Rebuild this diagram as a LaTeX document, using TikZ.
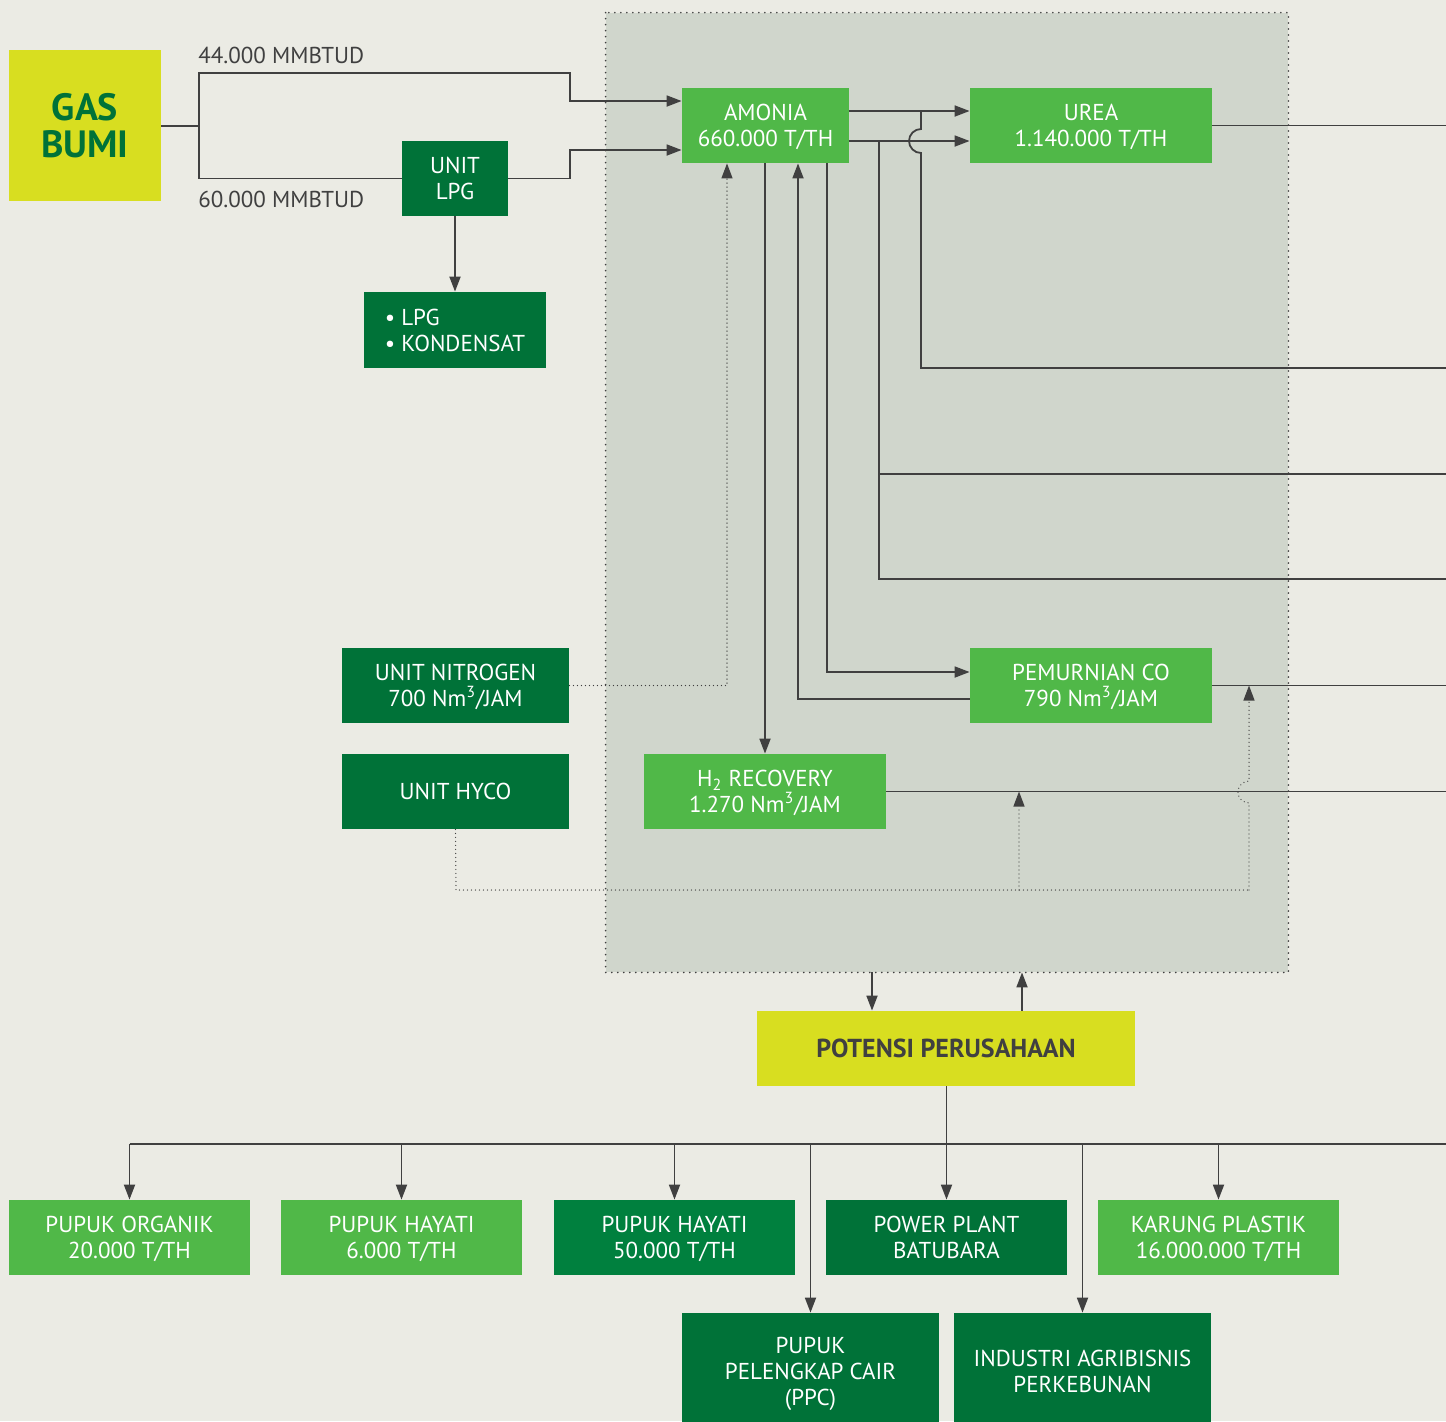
\documentclass[tikz,border=0pt]{standalone}
\usepackage{fontspec}
\setmainfont{PT Sans}
\usetikzlibrary{arrows.meta}
\definecolor{bg}{RGB}{235,235,228}
\definecolor{panelc}{RGB}{208,214,204}
\definecolor{lgreen}{RGB}{80,184,72}
\definecolor{dgreen}{RGB}{0,114,56}
\definecolor{mgreen}{RGB}{0,128,62}
\definecolor{ygreen}{RGB}{216,222,32}
\definecolor{ink}{RGB}{64,64,64}
\tikzset{
  box/.style={rectangle, inner sep=0pt, align=center, text=white, text depth=0pt, font=\fontsize{11.5}{13}\selectfont},
  lbox/.style={box, fill=lgreen},
  dbox/.style={box, fill=dgreen},
  conn/.style={draw=ink, line width=0.9pt},
  flow/.style={conn, -{Triangle[length=7.5pt,width=5.5pt]}},
  dotl/.style={draw=ink, line width=0.65pt, line cap=round, dash pattern=on 0pt off 2pt},
  dotflow/.style={dotl, -{Triangle[length=7.5pt,width=5.5pt]}},
  lbl/.style={text=ink, font=\fontsize{11.5}{13}\selectfont, inner sep=0pt, anchor=west}
}
\begin{document}
\begin{tikzpicture}[x=0.5pt,y=-0.5pt]
\fill[bg] (0,0) rectangle (1446,1421);
\useasboundingbox (0,0) rectangle (1446,1421);
\clip (0,0) rectangle (1446,1421);
% panel
\node[rectangle, fill=panelc, minimum width=341pt, minimum height=479.5pt, inner sep=0pt] (panel) at (947,492.5) {};
\draw[ink, line width=0.9pt, line cap=round, dash pattern=on 0pt off 3pt] (panel.north west) rectangle (panel.south east);

% nodes
\node[box, fill=ygreen, text=dgreen, minimum width=76pt, minimum height=75.5pt, font=\bfseries\fontsize{19}{18.5}\selectfont] (gas) at (85,125.5) {GAS\\BUMI};
\node[dbox, minimum width=53pt, minimum height=37.5pt] (lpgu) at (455,178.5) {UNIT\\LPG};
\node[dbox, minimum width=91pt, minimum height=38pt, align=left] (kond) at (455,330) {\textbullet\ LPG\\\textbullet\ KONDENSAT};
\node[lbox, minimum width=83.5pt, minimum height=37.5pt] (amonia) at (765.5,125.5) {AMONIA\\660.000 T/TH};
\node[lbox, minimum width=121pt, minimum height=37.5pt] (urea) at (1091,125.5) {UREA\\1.140.000 T/TH};
\node[lbox, minimum width=121pt, minimum height=37.5pt] (pem) at (1091,685.5) {PEMURNIAN CO\\790 Nm\textsuperscript{3}/JAM};
\node[lbox, minimum width=121pt, minimum height=37.5pt] (h2) at (765,791.5) {H\textsubscript{2} RECOVERY\\1.270 Nm\textsuperscript{3}/JAM};
\node[dbox, minimum width=113.5pt, minimum height=37.5pt] (nit) at (455.5,685.5) {UNIT NITROGEN\\700 Nm\textsuperscript{3}/JAM};
\node[dbox, minimum width=113.5pt, minimum height=37.5pt] (hyco) at (455.5,791.5) {UNIT HYCO};
\node[box, fill=ygreen, text=ink, minimum width=189pt, minimum height=37.5pt, font=\bfseries\fontsize{13}{15}\selectfont] (pot) at (946,1048.5) {POTENSI PERUSAHAAN};
\node[lbox, minimum width=120.5pt, minimum height=37.5pt] (org) at (129.5,1237.5) {PUPUK ORGANIK\\20.000 T/TH};
\node[lbox, minimum width=120.5pt, minimum height=37.5pt] (hay1) at (401.5,1237.5) {PUPUK HAYATI\\6.000 T/TH};
\node[box, fill=mgreen, minimum width=120.5pt, minimum height=37.5pt] (hay2) at (674.5,1237.5) {PUPUK HAYATI\\50.000 T/TH};
\node[dbox, minimum width=120.5pt, minimum height=37.5pt] (power) at (946.5,1237.5) {POWER PLANT\\BATUBARA};
\node[lbox, minimum width=120.5pt, minimum height=37.5pt] (karung) at (1218.5,1237.5) {KARUNG PLASTIK\\16.000.000 T/TH};
\node[dbox, minimum width=128.5pt, minimum height=58pt] (ppc) at (810.5,1371) {PUPUK\\PELENGKAP CAIR\\(PPC)};
\node[dbox, minimum width=128.5pt, minimum height=58pt] (agri) at (1082.5,1371) {INDUSTRI AGRIBISNIS\\PERKEBUNAN};

% labels
\node[lbl] (l44) at (198,55) {44.000 MMBTUD};
\node[lbl] (l60) at (198,199) {60.000 MMBTUD};

% helper coordinates
\coordinate (edge) at (1446,0);
\coordinate (j) at (199,126);
\coordinate (k1) at (570,73);
\coordinate (k2) at (570,150);
\coordinate (r101) at (0,101);
\coordinate (r111) at (0,111);
\coordinate (r141) at (0,141);
\coordinate (r368) at (0,368);
\coordinate (r474) at (0,474);
\coordinate (r579) at (0,579);
\coordinate (r672) at (0,672);
\coordinate (r699) at (0,699);
\coordinate (x727) at (727,0);
\coordinate (x798) at (798,0);
\coordinate (x827) at (827,0);
\coordinate (x879) at (879,0);
\coordinate (x921) at (921,0);
\coordinate (hb) at (456,890);
\coordinate (x1019) at (1019,0);
\coordinate (x1249) at (1249,0);
\coordinate (x872) at (872,0);
\coordinate (x1022) at (1022,0);
\coordinate (bus) at (0,1144);

% gas inputs
\draw[conn] (gas.east |- j) -- (j);
\draw[flow] (j) |- (k1) |- (amonia.west |- r101);
\draw[conn] (j) |- (lpgu.west);
\draw[flow] (lpgu.east) -| (k2) -- (amonia.west |- k2);
\draw[flow] (lpgu.south) -- (kond.north);

% amonia to urea
\draw[flow] (amonia.east |- r111) -- (urea.west |- r111);
\draw[flow] (amonia.east |- r141) -- (urea.west |- r141);
\draw[conn] (x921 |- r111) -- ++(0,18) arc[start angle=90, end angle=270, radius=6pt] -- (x921 |- r368) -- (edge |- r368);
\draw[conn] (x879 |- r141) -- (x879 |- r579) -- (edge |- r579);
\draw[conn] (x879 |- r474) -- (edge |- r474);
\draw[conn] (urea.east) -- (edge |- urea.east);

% amonia down/up
\draw[flow] (amonia.south -| h2.north) -- (h2.north);
\draw[flow] (pem.west |- r699) -| (amonia.south -| x798);
\draw[flow] (amonia.south -| x827) |- (pem.west |- r672);
\draw[conn] (pem.east) -- (edge |- pem.east);
\draw[conn] (h2.east) -- (edge |- h2.east);

% dotted
\draw[dotflow] (nit.east) -| (amonia.south -| x727);
\draw[dotl] (hyco.south) -- (hb) -- (x1249 |- hb);
\draw[dotflow] (x1019 |- hb) -- (x1019 |- h2.east);
\draw[dotflow] (x1249 |- hb) -- (1249,803) arc[start angle=270, end angle=90, radius=5.5pt] -- (x1249 |- pem.east);

% potensi
\draw[flow] (panel.south -| x872) -- (pot.north -| x872);
\draw[flow] (pot.north -| x1022) -- (panel.south -| x1022);
\draw[flow] (pot.south -| power.north) -- (power.north);
\draw[conn] (org.north |- bus) -- (edge |- bus);
\draw[flow] (org.north |- bus) -- (org.north);
\draw[flow] (hay1.north |- bus) -- (hay1.north);
\draw[flow] (hay2.north |- bus) -- (hay2.north);
\draw[flow] (karung.north |- bus) -- (karung.north);
\draw[flow] (ppc.north |- bus) -- (ppc.north);
\draw[flow] (agri.north |- bus) -- (agri.north);
\end{tikzpicture}
\end{document}
